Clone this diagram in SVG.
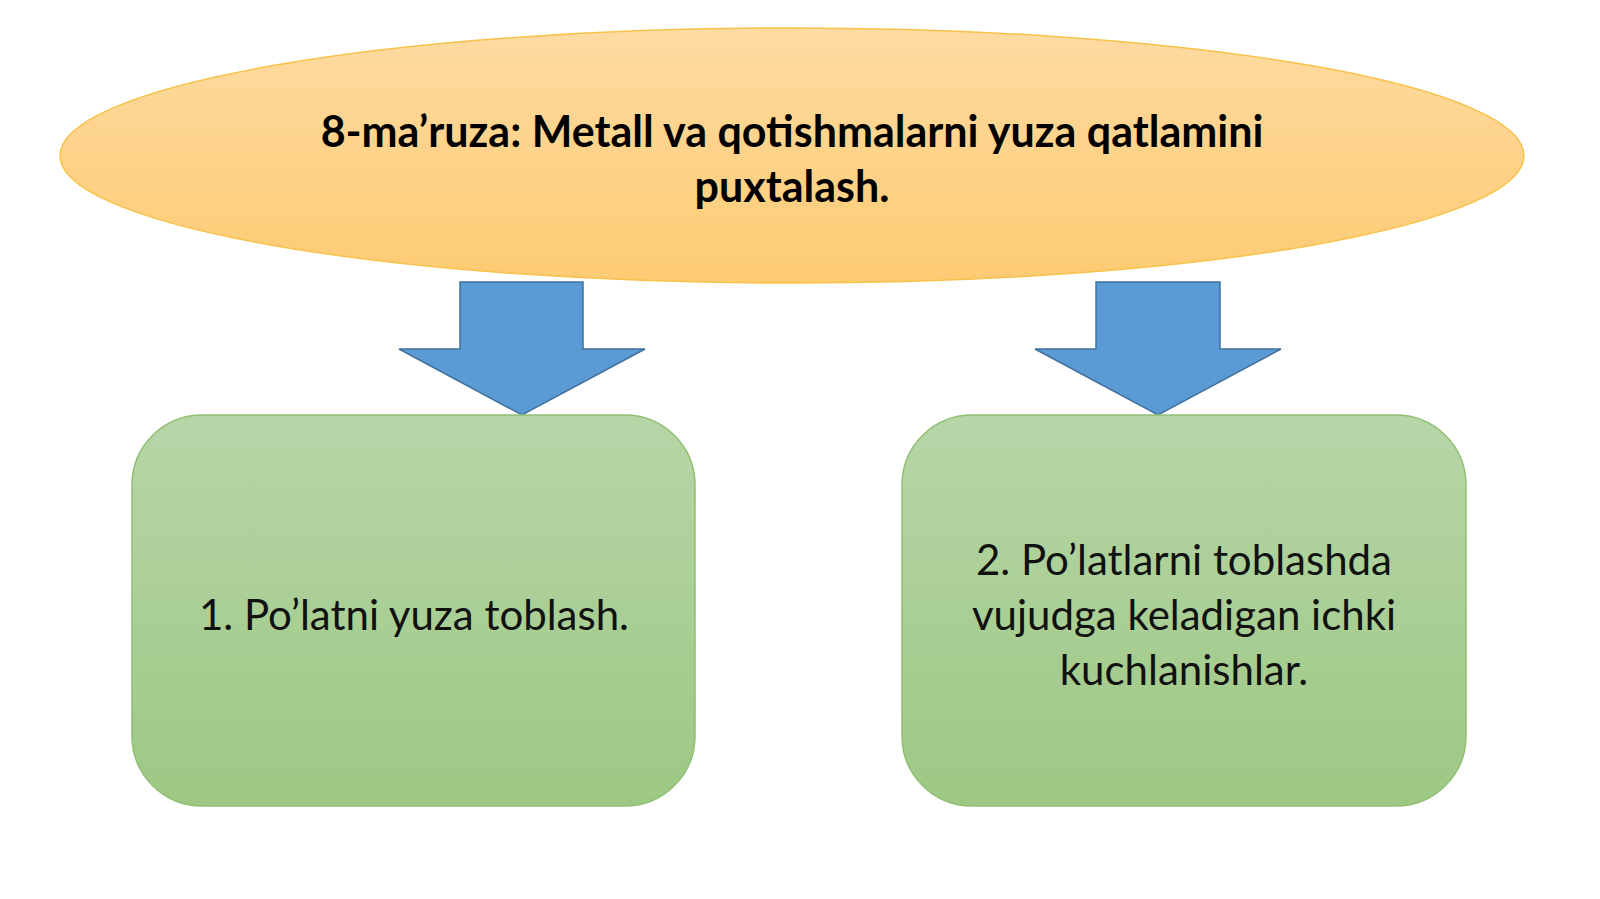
<svg xmlns="http://www.w3.org/2000/svg" width="1600" height="899" viewBox="0 0 1600 899">
<defs>
<linearGradient id="gOr" x1="0" y1="0" x2="0" y2="1">
<stop offset="0" stop-color="#FEDBA2"/>
<stop offset="1" stop-color="#FDCB72"/>
</linearGradient>
<linearGradient id="gGr" x1="0" y1="0" x2="0" y2="1">
<stop offset="0" stop-color="#B7D6A8"/>
<stop offset="1" stop-color="#9DC883"/>
</linearGradient>
<style>
.title{font-family:Lato,"Open Sans","Liberation Sans",sans-serif;font-weight:bold;font-size:43px;fill:#000;text-anchor:middle}
.body{font-family:Lato,"Open Sans","Liberation Sans",sans-serif;font-size:42px;fill:#111;text-anchor:middle}
.box{fill:url(#gGr);stroke:#8FBF72;stroke-width:1.5}
.arrow{fill:#5B9BD5;stroke:#41719C;stroke-width:1.5}
</style>
</defs>
<rect width="1600" height="899" fill="#fff"/>
<g id="title">
<ellipse cx="792" cy="155.5" rx="732" ry="127.5" fill="url(#gOr)" stroke="#F7C24A" stroke-width="1.5"/>
<text class="title" x="792" y="147">8-ma’ruza: Metall va qotishmalarni yuza qatlamini</text>
<text class="title" x="792" y="202">puxtalash.</text>
</g>
<g id="connectors">
<polygon class="arrow" points="460,282 583,282 583,349 645,349 522,415 399,349 460,349"/>
<polygon class="arrow" points="1096,282 1220,282 1220,349 1281,349 1158,415 1035,349 1096,349"/>
</g>
<g id="node1">
<rect class="box" x="132" y="415" width="563" height="391" rx="70" ry="70"/>
<text class="body" x="414" y="630">1. Po’latni yuza toblash.</text>
</g>
<g id="node2">
<rect class="box" x="902" y="415" width="564" height="391" rx="70" ry="70"/>
<text class="body" x="1184" y="575">2. Po’latlarni toblashda</text>
<text class="body" x="1184" y="630">vujudga keladigan ichki</text>
<text class="body" x="1184" y="685">kuchlanishlar.</text>
</g>
</svg>
